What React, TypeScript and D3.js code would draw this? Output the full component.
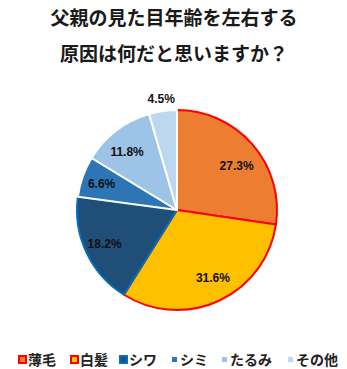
import React from "react";
import * as d3 from "d3";

const categories = ["薄毛", "白髪", "シワ", "シミ", "たるみ", "その他"];
const values = [27.3, 31.6, 18.2, 6.6, 11.8, 4.5];
const labels = ["27.3%", "31.6%", "18.2%", "6.6%", "11.8%", "4.5%"];
const fills = ["#ED7D31", "#FFC000", "#1F4E79", "#2E75B6", "#9DC3E6", "#BDD7EE"];
const strokes = ["#FF0000", "#FF0000", "#0070C0", "#FFFFFF", "#FFFFFF", "#FFFFFF"];
const titleLines = ["父親の見た目年齢を左右する", "原因は何だと思いますか？"];

const W = 347, H = 369;
const cx = 177, cy = 210, R = 100;
// label placement: radial fraction and angular nudge (degrees)
const labelR = [0.74, 0.77, 0.8, 0.8, 0.77, 1.12];
const labelNudge = [4.5, -3, 0, 0, -3, 0];
const legendX = [18, 70, 119, 172, 222, 288];
const legendBig = [true, true, true, false, false, false];

export default function App() {
  const pie = d3.pie<number>().sort(null).value((d) => d)(values);
  const arc = d3.arc<d3.PieArcDatum<number>>().innerRadius(0).outerRadius(R);
  const font = "'Noto Sans CJK JP', 'Noto Sans', sans-serif";
  return (
    <svg width={W} height={H} style={{ position: "absolute", left: 0, top: 0 }}>
      <rect width={W} height={H} fill="#fff" />
      {titleLines.map((t, i) => (
        <text key={i} x={174} y={25 + i * 36} textAnchor="middle" fontFamily={font}
          fontWeight="bold" fontSize={19} fill="#1a1a1a">{t}</text>
      ))}
      <g transform={`translate(${cx},${cy})`}>
        {pie.map((p, i) => (
          <path key={i} d={arc(p) || ""} fill={fills[i]} stroke={strokes[i]}
            strokeWidth={2} strokeLinejoin="round" />
        ))}
        {pie.map((p, i) => {
          const a = (p.startAngle + p.endAngle) / 2 + (labelNudge[i] * Math.PI) / 180;
          const r = R * labelR[i];
          return (
            <text key={"l" + i} x={Math.sin(a) * r} y={-Math.cos(a) * r} dy="0.35em"
              textAnchor="middle" fontFamily="'Liberation Sans', Arial, sans-serif"
              fontWeight="bold" fontSize={12} fill="#111">{labels[i]}</text>
          );
        })}
      </g>
      {categories.map((c, i) => (
        <g key={"g" + i}>
          {legendBig[i] ? (
            <rect x={legendX[i] + 1} y={356} width={7} height={7} fill={fills[i]}
              stroke={strokes[i]} strokeWidth={2} />
          ) : (
            <rect x={legendX[i]} y={357} width={5} height={5} fill={fills[i]} />
          )}
          <text x={legendX[i] + (legendBig[i] ? 10 : 8)} y={360} dy="0.36em" fontFamily={font}
            fontWeight="bold" fontSize={14} fill="#222">{c}</text>
        </g>
      ))}
    </svg>
  );
}
